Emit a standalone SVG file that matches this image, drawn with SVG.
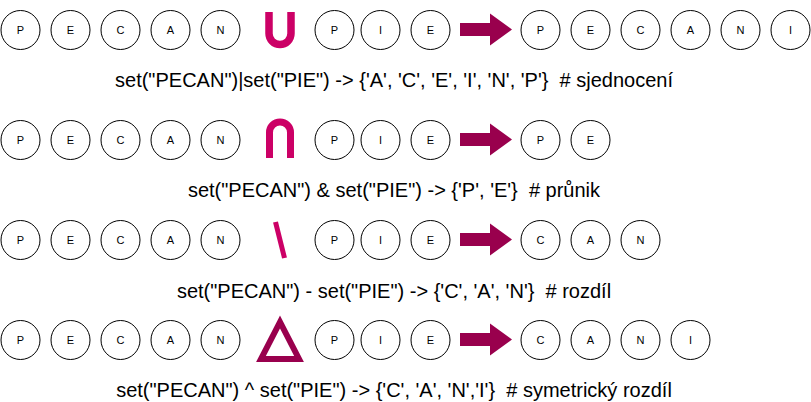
<svg xmlns="http://www.w3.org/2000/svg" width="811" height="402" viewBox="0 0 811 402">
<defs>
<style>
.c{fill:#fff;stroke:#000;stroke-width:1}
.l{font-family:"Liberation Sans",Arial,Helvetica,sans-serif;font-size:11px;text-anchor:middle;fill:#000}
.t{font-family:"Liberation Sans",Arial,Helvetica,sans-serif;font-size:20px;text-anchor:middle;fill:#000;white-space:pre}
.op{fill:none;stroke:#CC0066}
.arr{fill:#99004D;stroke:none}
</style>
<g id="ar"><path d="M460 -6.5H490V-16L512 0L490 16V6.5H460Z"/></g>
</defs>
<rect width="811" height="402" fill="#fff"/>

<!-- Row 1: union -->
<g id="r1">
<g id="r1a-P"><circle class="c" cx="20.5" cy="30" r="19.5"/><text class="l" x="20.5" y="34">P</text></g>
<g id="r1a-E"><circle class="c" cx="70.5" cy="30" r="19.5"/><text class="l" x="70.5" y="34">E</text></g>
<g id="r1a-C"><circle class="c" cx="120.5" cy="30" r="19.5"/><text class="l" x="120.5" y="34">C</text></g>
<g id="r1a-A"><circle class="c" cx="170.5" cy="30" r="19.5"/><text class="l" x="170.5" y="34">A</text></g>
<g id="r1a-N"><circle class="c" cx="220.5" cy="30" r="19.5"/><text class="l" x="220.5" y="34">N</text></g>
<g id="r1-op"><path class="op" stroke-width="7.5" d="M269 12V33.5A11 11 0 0 0 291 33.5V12"/></g>
<g id="r1b-P"><circle class="c" cx="334.5" cy="30" r="19.5"/><text class="l" x="334.5" y="34">P</text></g>
<g id="r1b-I"><circle class="c" cx="380.5" cy="30" r="19.5"/><text class="l" x="380.5" y="34">I</text></g>
<g id="r1b-E"><circle class="c" cx="430.5" cy="30" r="19.5"/><text class="l" x="430.5" y="34">E</text></g>
<g id="r1r-P"><circle class="c" cx="540.5" cy="30" r="19.5"/><text class="l" x="540.5" y="34">P</text></g>
<g id="r1r-E"><circle class="c" cx="590.5" cy="30" r="19.5"/><text class="l" x="590.5" y="34">E</text></g>
<g id="r1r-C"><circle class="c" cx="640.5" cy="30" r="19.5"/><text class="l" x="640.5" y="34">C</text></g>
<g id="r1r-A"><circle class="c" cx="690.5" cy="30" r="19.5"/><text class="l" x="690.5" y="34">A</text></g>
<g id="r1r-N"><circle class="c" cx="740.5" cy="30" r="19.5"/><text class="l" x="740.5" y="34">N</text></g>
<g id="r1r-I"><circle class="c" cx="790.5" cy="30" r="19.5"/><text class="l" x="790.5" y="34">I</text></g>
<text class="t" x="394" y="87" xml:space="preserve">set("PECAN")|set("PIE") -&gt; {'A', 'C', 'E', 'I', 'N', 'P'}  # sjednocení</text>
</g>

<!-- Row 2: intersection -->
<g id="r2">
<g id="r2a-P"><circle class="c" cx="20.5" cy="140" r="19.5"/><text class="l" x="20.5" y="144">P</text></g>
<g id="r2a-E"><circle class="c" cx="70.5" cy="140" r="19.5"/><text class="l" x="70.5" y="144">E</text></g>
<g id="r2a-C"><circle class="c" cx="120.5" cy="140" r="19.5"/><text class="l" x="120.5" y="144">C</text></g>
<g id="r2a-A"><circle class="c" cx="170.5" cy="140" r="19.5"/><text class="l" x="170.5" y="144">A</text></g>
<g id="r2a-N"><circle class="c" cx="220.5" cy="140" r="19.5"/><text class="l" x="220.5" y="144">N</text></g>
<g id="r2-op"><path class="op" stroke-width="7" d="M269.5 158V132.5A10.5 10.5 0 0 1 290.5 132.5V158"/></g>
<g id="r2b-P"><circle class="c" cx="334.5" cy="140" r="19.5"/><text class="l" x="334.5" y="144">P</text></g>
<g id="r2b-I"><circle class="c" cx="380.5" cy="140" r="19.5"/><text class="l" x="380.5" y="144">I</text></g>
<g id="r2b-E"><circle class="c" cx="430.5" cy="140" r="19.5"/><text class="l" x="430.5" y="144">E</text></g>
<g id="r2r-P"><circle class="c" cx="540.5" cy="140" r="19.5"/><text class="l" x="540.5" y="144">P</text></g>
<g id="r2r-E"><circle class="c" cx="590.5" cy="140" r="19.5"/><text class="l" x="590.5" y="144">E</text></g>
<text class="t" x="394" y="197" xml:space="preserve">set("PECAN") &amp; set("PIE") -&gt; {'P', 'E'}  # průnik</text>
</g>

<!-- Row 3: difference -->
<g id="r3">
<g id="r3a-P"><circle class="c" cx="20.5" cy="240" r="19.5"/><text class="l" x="20.5" y="244">P</text></g>
<g id="r3a-E"><circle class="c" cx="70.5" cy="240" r="19.5"/><text class="l" x="70.5" y="244">E</text></g>
<g id="r3a-C"><circle class="c" cx="120.5" cy="240" r="19.5"/><text class="l" x="120.5" y="244">C</text></g>
<g id="r3a-A"><circle class="c" cx="170.5" cy="240" r="19.5"/><text class="l" x="170.5" y="244">A</text></g>
<g id="r3a-N"><circle class="c" cx="220.5" cy="240" r="19.5"/><text class="l" x="220.5" y="244">N</text></g>
<g id="r3-op"><path class="op" stroke-width="5" d="M275.5 222L284.5 258"/></g>
<g id="r3b-P"><circle class="c" cx="334.5" cy="240" r="19.5"/><text class="l" x="334.5" y="244">P</text></g>
<g id="r3b-I"><circle class="c" cx="380.5" cy="240" r="19.5"/><text class="l" x="380.5" y="244">I</text></g>
<g id="r3b-E"><circle class="c" cx="430.5" cy="240" r="19.5"/><text class="l" x="430.5" y="244">E</text></g>
<g id="r3r-C"><circle class="c" cx="540.5" cy="240" r="19.5"/><text class="l" x="540.5" y="244">C</text></g>
<g id="r3r-A"><circle class="c" cx="590.5" cy="240" r="19.5"/><text class="l" x="590.5" y="244">A</text></g>
<g id="r3r-N"><circle class="c" cx="640.5" cy="240" r="19.5"/><text class="l" x="640.5" y="244">N</text></g>
<text class="t" x="394" y="298" xml:space="preserve">set("PECAN") - set("PIE") -&gt; {'C', 'A', 'N'}  # rozdíl</text>
</g>

<!-- Row 4: symmetric difference -->
<g id="r4">
<g id="r4a-P"><circle class="c" cx="20.5" cy="340" r="19.5"/><text class="l" x="20.5" y="344">P</text></g>
<g id="r4a-E"><circle class="c" cx="70.5" cy="340" r="19.5"/><text class="l" x="70.5" y="344">E</text></g>
<g id="r4a-C"><circle class="c" cx="120.5" cy="340" r="19.5"/><text class="l" x="120.5" y="344">C</text></g>
<g id="r4a-A"><circle class="c" cx="170.5" cy="340" r="19.5"/><text class="l" x="170.5" y="344">A</text></g>
<g id="r4a-N"><circle class="c" cx="220.5" cy="340" r="19.5"/><text class="l" x="220.5" y="344">N</text></g>
<g id="r4-op"><path fill="none" stroke="#99004D" stroke-width="6" stroke-linejoin="miter" d="M280 322L261 359H299Z"/></g>
<g id="r4b-P"><circle class="c" cx="334.5" cy="340" r="19.5"/><text class="l" x="334.5" y="344">P</text></g>
<g id="r4b-I"><circle class="c" cx="380.5" cy="340" r="19.5"/><text class="l" x="380.5" y="344">I</text></g>
<g id="r4b-E"><circle class="c" cx="430.5" cy="340" r="19.5"/><text class="l" x="430.5" y="344">E</text></g>
<g id="r4r-C"><circle class="c" cx="540.5" cy="340" r="19.5"/><text class="l" x="540.5" y="344">C</text></g>
<g id="r4r-A"><circle class="c" cx="590.5" cy="340" r="19.5"/><text class="l" x="590.5" y="344">A</text></g>
<g id="r4r-N"><circle class="c" cx="640.5" cy="340" r="19.5"/><text class="l" x="640.5" y="344">N</text></g>
<g id="r4r-I"><circle class="c" cx="690.5" cy="340" r="19.5"/><text class="l" x="690.5" y="344">I</text></g>
<text class="t" x="394" y="397" xml:space="preserve">set("PECAN") ^ set("PIE") -&gt; {'C', 'A', 'N','I'}  # symetrický rozdíl</text>
</g>

<g id="connectors" class="arr">
<use href="#ar" transform="translate(0,29.5)"/>
<use href="#ar" transform="translate(0,139.5)"/>
<use href="#ar" transform="translate(0,239.5)"/>
<use href="#ar" transform="translate(0,339.5)"/>
</g>
</svg>
